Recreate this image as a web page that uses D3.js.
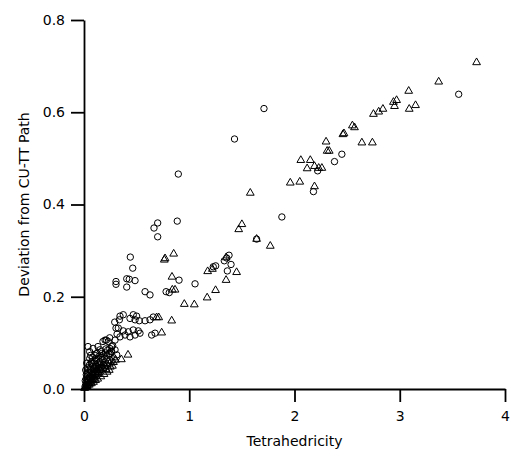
<!doctype html>
<html>
<head>
<script src="https://cdn.jsdelivr.net/npm/d3@7"></script>
<style>
  body { margin: 0; background: #fff; }
  text { font-family: "DejaVu Sans", sans-serif; }
</style>
</head>
<body>
<svg width="510" height="450"></svg>
<script>
// tick labels
var xTicks = [0, 1, 2, 3, 4];
var yTicks = [0, 0.2, 0.4, 0.6, 0.8];

// open circles: [tetrahedricity, deviation]
var circlePoints = [
  [3.56,0.639],[1.71,0.608],[1.43,0.542],[0.896,0.466],[2.45,0.509],[2.38,0.493],
  [2.22,0.473],[2.18,0.428],[1.88,0.373],[1.64,0.325],[0.70,0.360],[0.665,0.349],
  [0.70,0.330],[0.886,0.364],[0.44,0.286],[0.463,0.262],[0.304,0.233],[0.304,0.227],
  [0.406,0.239],[0.43,0.238],[0.485,0.235],[0.406,0.221],[0.903,0.236],[1.055,0.228],
  [0.58,0.211],[0.627,0.204],[0.78,0.211],[0.81,0.209],[1.333,0.278],[1.356,0.284],
  [1.378,0.290],[1.397,0.270],[1.362,0.256],[1.228,0.265],[1.251,0.267],
  [0.336,0.150],[0.373,0.161],[0.437,0.153],[0.485,0.150],[0.525,0.148],[0.58,0.148],
  [0.627,0.150],[0.658,0.156],[0.342,0.158],[0.468,0.161],[0.50,0.158],
  [0.326,0.132],[0.373,0.126],[0.421,0.124],[0.468,0.128],[0.516,0.126],[0.485,0.117],
  [0.532,0.121],[0.437,0.113],[0.39,0.117],[0.342,0.113],[0.295,0.106],[0.643,0.117],
  [0.675,0.121],[0.231,0.103],[0.20,0.106],[0.263,0.092],[0.295,0.085],[0.152,0.085],
  [0.168,0.077],[0.247,0.077],[0.311,0.074],[0.292,0.145],[0.304,0.132],[0.314,0.119],
  [0.038,0.092],[0.086,0.088],[0.133,0.092],[0.18,0.103],[0.212,0.106],[0.244,0.111],
  [0.209,0.087],[0.257,0.081],[0.054,0.081],[0.164,0.081],[0.07,0.056],[0.114,0.052],
  [0.01,0.005],[0.02,0.011],[0.03,0.021],[0.022,0.031],[0.041,0.036],[0.052,0.026],
  [0.061,0.042],[0.072,0.031],[0.083,0.049],[0.094,0.044],[0.101,0.061],[0.113,0.048],
  [0.122,0.066],[0.134,0.056],[0.141,0.071],[0.153,0.059],[0.162,0.069],[0.174,0.064],
  [0.183,0.074],[0.192,0.066],[0.204,0.078],[0.215,0.072],[0.224,0.084],[0.236,0.076],
  [0.245,0.088],[0.262,0.082],[0.272,0.094],[0.051,0.052],[0.032,0.046],[0.071,0.059],
  [0.104,0.073],[0.124,0.077],[0.043,0.016],[0.062,0.021],[0.081,0.034],[0.102,0.041],
  [0.133,0.044],[0.016,0.041],[0.026,0.056],[0.054,0.066],[0.082,0.068],[0.063,0.073],
  [0.012,0.018],[0.034,0.028],[0.046,0.043],[0.088,0.056],[0.118,0.062],[0.146,0.052],
  [0.02,0.022],[0.057,0.035],[0.092,0.038],[0.108,0.032],[0.126,0.038],[0.16,0.046]
];

// open triangles: [tetrahedricity, deviation]
var trianglePoints = [
  [3.73,0.708],[3.37,0.666],[3.085,0.646],[2.94,0.622],[2.97,0.626],[2.95,0.613],
  [3.09,0.607],[3.15,0.615],[2.75,0.596],[2.80,0.601],[2.84,0.607],[2.55,0.571],
  [2.57,0.567],[2.46,0.552],[2.47,0.554],[2.64,0.534],[2.74,0.534],[2.30,0.536],
  [2.31,0.516],[2.33,0.516],[2.06,0.496],[2.15,0.496],[2.12,0.478],[2.19,0.483],
  [2.23,0.479],[2.26,0.479],[1.96,0.447],[2.05,0.449],[2.19,0.439],[1.58,0.425],
  [1.47,0.346],[1.50,0.357],[1.64,0.325],[1.77,0.310],[1.175,0.255],[1.22,0.260],
  [1.45,0.253],[1.35,0.236],[1.25,0.214],[1.17,0.198],[0.852,0.293],[0.763,0.280],
  [0.77,0.283],[0.836,0.243],[0.953,0.184],[1.048,0.183],[0.69,0.155],[0.71,0.155],
  [0.833,0.148],[0.839,0.215],[0.865,0.215],[1.35,0.285],[0.738,0.122],
  [0.355,0.064],[0.418,0.074],[0.285,0.068],
  [0.01,0.003],[0.02,0.006],[0.031,0.008],[0.04,0.011],[0.052,0.012],[0.06,0.016],
  [0.071,0.018],[0.08,0.021],[0.092,0.022],[0.10,0.026],[0.112,0.028],[0.12,0.031],
  [0.131,0.033],[0.142,0.036],[0.15,0.041],[0.161,0.042],[0.18,0.046],[0.20,0.049],
  [0.22,0.053],[0.241,0.055],[0.26,0.061],[0.28,0.058],[0.30,0.063],[0.25,0.048],
  [0.021,0.013],[0.04,0.021],[0.062,0.025],[0.081,0.031],[0.10,0.036],[0.121,0.041],
  [0.141,0.046],[0.17,0.051],[0.19,0.056],[0.23,0.061],[0.005,0.002],[0.015,0.004],
  [0.03,0.006],[0.05,0.009],[0.07,0.012],[0.09,0.015],[0.11,0.019],[0.13,0.022],
  [0.16,0.027],[0.19,0.032],[0.22,0.037],[0.24,0.041],[0.27,0.050],[0.21,0.043]
];

var svg = d3.select("svg");
var x = d3.scaleLinear().domain([0, 4]).range([84, 505]);
var y = d3.scaleLinear().domain([0, 0.8]).range([389, 20]);

var xAxis = svg.append("g")
  .attr("transform", "translate(0," + y(0) + ")")
  .call(d3.axisBottom(x).tickValues(xTicks).tickFormat(d3.format("d"))
    .tickSize(13).tickPadding(9).tickSizeOuter(0));
var yAxis = svg.append("g")
  .attr("transform", "translate(" + x(0) + ",0)")
  .call(d3.axisLeft(y).tickValues(yTicks).tickFormat(d3.format(".1f"))
    .tickSize(13).tickPadding(6).tickSizeOuter(0));

[xAxis, yAxis].forEach(g => {
  g.select(".domain").attr("stroke", "#000").attr("stroke-width", 1.8);
  g.selectAll(".tick line").attr("stroke", "#000").attr("stroke-width", 1.8);
  g.selectAll(".tick text").attr("fill", "#000")
    .style("font-family", "'DejaVu Sans', sans-serif").style("font-size", "14px");
});

svg.append("text")
  .attr("x", x(2)).attr("y", 446)
  .attr("text-anchor", "middle")
  .style("font-size", "14px")
  .text("Tetrahedricity");
svg.append("text")
  .attr("transform", "translate(29," + y(0.4) + ") rotate(-90)")
  .attr("text-anchor", "middle")
  .style("font-size", "14px")
  .text("Deviation from CU-TT Path");

svg.append("g").selectAll("circle")
  .data(circlePoints)
  .enter()
  .append("circle")
  .attr("cx", d => x(d[0]))
  .attr("cy", d => y(d[1]))
  .attr("r", 3.2)
  .style("fill", "none")
  .style("stroke", "black")
  .style("stroke-width", "1px");

var tri = d3.symbol().type(d3.symbolTriangle).size(26);
svg.append("g").selectAll("path")
  .data(trianglePoints)
  .enter()
  .append("path")
  .attr("d", tri)
  .attr("transform", d => "translate(" + x(d[0]) + "," + y(d[1]) + ")")
  .style("fill", "none")
  .style("stroke", "black")
  .style("stroke-width", "1px");
</script>
</body>
</html>
